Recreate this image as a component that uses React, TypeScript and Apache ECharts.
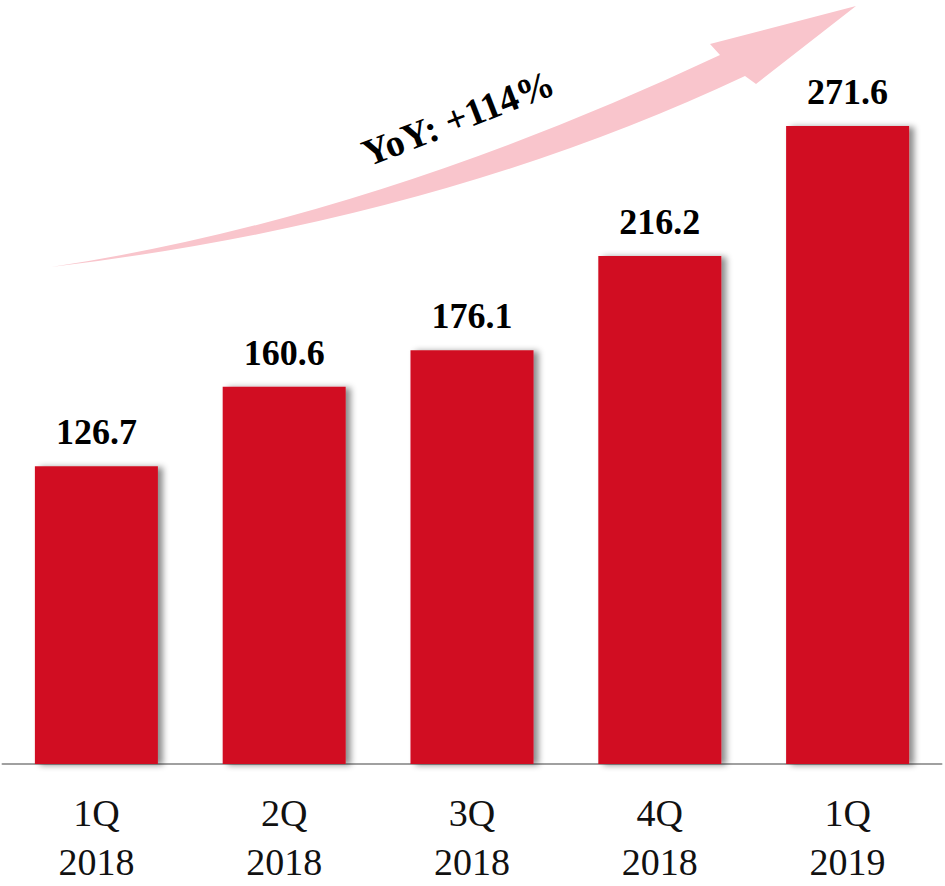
import React, { useEffect, useRef } from "react";
import * as echarts from "echarts";

const categories = ["1Q\n2018", "2Q\n2018", "3Q\n2018", "4Q\n2018", "1Q\n2019"];
const revenue = [126.7, 160.6, 176.1, 216.2, 271.6];
const growthText = "YoY: +114%";

const ARROW_D =
  "M51,267 Q371,219 720,55 L710,44 L856,6 L756,84 L745,76 Q437,221 51,267 Z";

let registered = false;
function ensureShape() {
  if (registered) return;
  echarts.graphic.registerShape("growthArrow", echarts.graphic.extendPath(ARROW_D, {}) as any);
  registered = true;
}

const SERIF = "Liberation Serif";

export default function App() {
  const ref = useRef<HTMLDivElement>(null);
  useEffect(() => {
    if (!ref.current) return;
    ensureShape();
    const chart = echarts.init(ref.current, undefined, { renderer: "svg" });
    chart.setOption({
      animation: false,
      grid: { left: 2.5, right: 3.5, top: 59.2, bottom: 114, containLabel: false },
      xAxis: {
        type: "category",
        data: categories,
        axisLine: { lineStyle: { color: "#a0a0a0", width: 2 } },
        axisTick: { show: false },
        axisLabel: {
          fontFamily: SERIF,
          fontSize: 38,
          color: "#111",
          lineHeight: 49,
          margin: 24,
        },
      },
      yAxis: {
        type: "value",
        min: 0,
        max: 300,
        show: false,
        splitLine: { show: false },
      },
      series: [
        {
          type: "bar",
          data: revenue,
          barWidth: 123,
          itemStyle: {
            color: "#D10D22",
            shadowColor: "rgba(0,0,0,0.45)",
            shadowBlur: 6,
            shadowOffsetX: 5,
            shadowOffsetY: 1,
          },
          label: {
            show: true,
            position: "top",
            distance: 16,
            fontFamily: SERIF,
            fontSize: 36,
            fontWeight: "bold",
            color: "#000",
            formatter: (p: any) => p.value.toFixed(1),
          },
        },
      ],
      graphic: [
        {
          type: "growthArrow",
          x: 0,
          y: 0,
          z: -1,
          style: { fill: "#F9C5CC" },
          silent: true,
        },
        {
          type: "text",
          x: 458,
          y: 118,
          rotation: 0.37,
          z: 10,
          style: {
            text: growthText,
            fontFamily: SERIF,
            fontSize: 38,
            fontWeight: "bold",
            fill: "#000",
            align: "center",
            verticalAlign: "middle",
          },
        },
      ],
    });
    return () => chart.dispose();
  }, []);
  return (
    <div
      ref={ref}
      style={{ position: "absolute", left: 0, top: 0, width: 945, height: 886 }}
    />
  );
}
